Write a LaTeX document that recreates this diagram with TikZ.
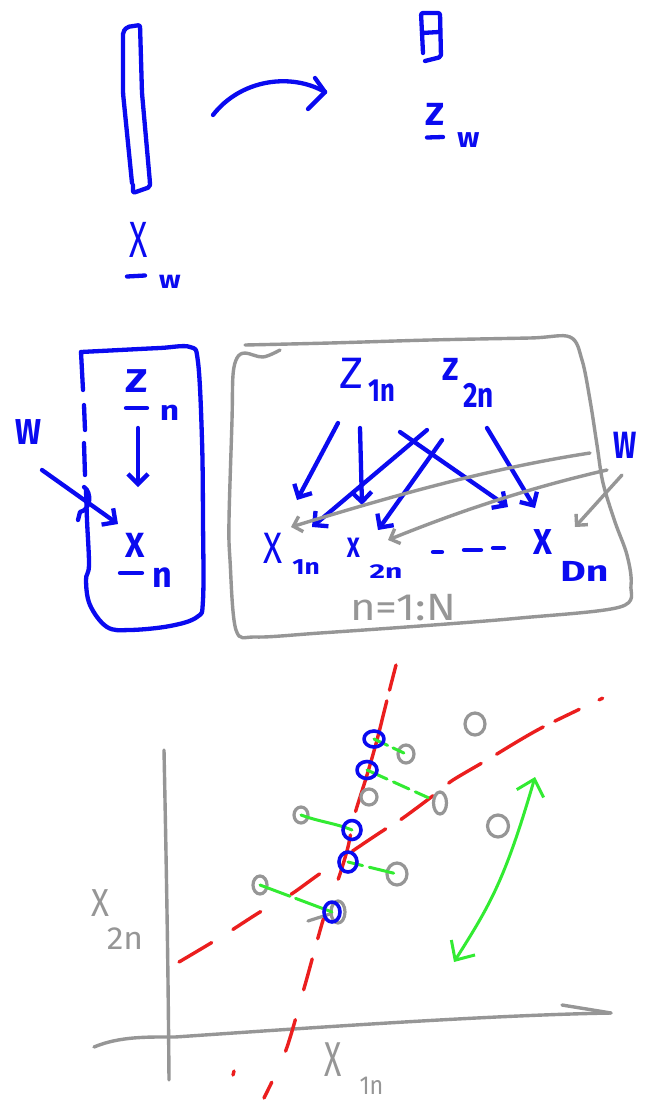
\documentclass[tikz,border=0pt]{standalone}
\usepackage{fontspec}
\setmainfont{Fira Sans}
\usepackage{graphicx}
\usetikzlibrary{arrows.meta,calc}
\definecolor{hblue}{RGB}{10,10,240}
\definecolor{hgray}{RGB}{150,150,150}
\definecolor{hred}{RGB}{235,30,30}
\definecolor{hgreen}{RGB}{50,235,50}
\newcommand{\HW}[3]{\fontsize{#1}{#1}\selectfont\bfseries\scalebox{#2}[1]{#3}}
\newcommand{\HWr}[3]{\fontsize{#1}{#1}\selectfont\scalebox{#2}[1]{#3}}
\begin{document}
\begin{tikzpicture}[x=1pt,y=-1pt,
  ink/.style={line cap=round,line join=round},
  bl/.style={ink,draw=hblue,line width=4.3pt},
  gr/.style={ink,draw=hgray,line width=3.4pt},
  rd/.style={ink,draw=hred,line width=3.4pt},
  gn/.style={ink,draw=hgreen,line width=3pt},
  btxt/.style={inner sep=0pt,outer sep=0pt,anchor=center,text=hblue},
  gtxt/.style={inner sep=0pt,outer sep=0pt,anchor=center,text=hgray},
  barb/.style={-{Straight Barb[length=10pt,width=20pt]}},
  sbarb/.style={-{Straight Barb[length=8pt,width=16pt]}},
  gbarb/.style={{Straight Barb[length=15pt,width=28pt]}-{Straight Barb[length=15pt,width=28pt]}},
  gdot/.style={gr,line width=3.2pt},
  bdot/.style={bl,line width=3.6pt}]
\useasboundingbox (0,0) rectangle (649,1101);
\fill[white] (0,0) rectangle (649,1101);

% ---------- top: x_w -> z_w ----------
\draw[bl,rounded corners=2pt] (132,183) -- (123,93) -- (123,32) -- (127,27) -- (140,25)
  -- (142,93) -- (150,183) -- (150,187) -- (133,193) -- (133,185);
\node[btxt] (xwX) at (139,240) {\HWr{51}{0.66}{X}};
\node[btxt] (xwW) at (170,281.5) {\HW{25}{1.15}{w}};
\draw[bl] (127,276.5) -- (145,275.5);

\coordinate (mapS) at (213,115);
\coordinate (mapE) at (325,92);
\draw[bl] (mapS) .. controls (240,80) and (290,72) .. (mapE);
\draw[bl] (mapE) -- ++(-10,-14);
\draw[bl] (mapE) -- ++(-17,17);

\draw[bl,rounded corners=2pt] (423,53) -- (421,13) -- (440,13) -- (441,57) -- (425,61);
\draw[bl] (422,33) -- (439,32);
\node[btxt] (zwZ) at (435,114) {\HW{32}{1.1}{Z}};
\node[btxt] (zwW) at (468.5,140.5) {\HW{28}{1.05}{w}};
\draw[bl] (427,137.5) -- (443,137);

% ---------- middle left: plate with z_n -> x_n ----------
\draw[bl] plot[smooth,tension=0.6] coordinates {(81,352) (120,350) (160,348) (190,347)
  (198,362) (202,440) (203,520) (203,600) (197,617) (170,626) (130,630) (107,627)
  (90,605) (86,580) (89,565) (87,520) (86,490)};
\draw[bl] (81,352) -- (83,390);
\draw[bl] (84,405) -- (85,430);
\draw[bl] (84,443) -- (85,475);
\draw[bl] (84,487) .. controls (92,492) and (91,510) .. (80,512) -- (78,520);

\node[btxt] (znZ) at (136.5,381.5) {\HW{33}{1.25}{Z}};
\node[btxt] (znN) at (169.5,412.5) {\HW{28}{1.2}{n}};
\draw[bl] (126,408) -- (147,408);
\node[btxt] (xnX) at (135,545) {\HW{35}{0.95}{X}};
\node[btxt] (xnN) at (162,577.5) {\HW{36}{0.95}{n}};
\draw[bl] (120,573) -- (142,573);
\node[btxt] (Wl) at (28.5,432.5) {\HW{36}{0.85}{W}};

\draw[bl,barb] ($(znZ)+(1.5,46.5)$) -- ($(xnX)+(3,-58)$);
\draw[bl,barb] ($(Wl)+(13.5,37.5)$) -- ($(xnX)+(-17,-21)$);

% ---------- middle right: gray plate ----------
\draw[gr] plot[smooth,tension=0.55] coordinates {(245,345) (330,343) (430,340) (530,338)
  (570,337) (582,360) (590,400) (597,445) (603,483) (615,522) (627,555) (631,585)
  (620,607) (520,618) (420,626) (320,633) (256,637) (236,630) (230,560) (229,520)
  (232,420) (233,375) (237,358) (245,353) (263,357) (280,350)};

\node[btxt] (z1Z) at (351.5,373) {\HWr{44}{1.05}{Z}};
\node[btxt] (z1S) at (382,391) {\HW{32}{0.8}{1n}};
\node[btxt] (z2Z) at (451,369) {\HW{32}{0.95}{Z}};
\node[btxt] (z2S) at (478.5,395) {\HW{35}{0.8}{2n}};
\node[btxt] (x1X) at (273,548) {\HWr{44}{0.8}{X}};
\node[btxt] (x1S) at (306,567.5) {\HW{22}{1.2}{1n}};
\node[btxt] (x2X) at (353.5,547.5) {\HW{28}{0.8}{X}};
\node[btxt] (x2S) at (386,572) {\HW{20}{1.5}{2n}};
\node[btxt] (xDX) at (542.5,542.5) {\HW{36}{0.9}{X}};
\node[btxt] (xDS) at (584.5,571) {\HW{29}{1.35}{Dn}};
\node[btxt] (Wr) at (625,445) {\HW{38}{0.72}{W}};
\node[gtxt] (plate) at (403,608) {\HWr{38}{1.15}{n=1:N}};

\draw[bl] (433,552) -- (442,552);
\draw[bl] (464,550) -- (481,550);
\draw[bl] (493,548) -- (504,548);

\draw[bl,barb] ($(z1Z)+(-13.5,50)$) -- ($(x1X)+(24,-48)$);
\draw[bl,barb] ($(z1Z)+(8.5,55)$) -- ($(x2X)+(8.5,-42.5)$);
\draw[bl,barb] ($(z1Z)+(48.5,59)$) -- ($(xDX)+(-34.5,-35.5)$);
\draw[bl,barb] ($(z2Z)+(-24,61)$) -- ($(x1X)+(39,-21)$);
\draw[bl,barb] ($(z2Z)+(-9,71)$) -- ($(x2X)+(24.5,-17.5)$);
\draw[bl,barb] ($(z2Z)+(36,59)$) -- ($(xDX)+(-7.5,-34.5)$);

\draw[gr,sbarb] ($(Wr)+(-35,8)$) .. controls (480,470) and (380,500) .. ($(x1X)+(18,-21)$);
\draw[gr,sbarb] ($(Wr)+(-18,25)$) .. controls (520,490) and (450,515) .. ($(x2X)+(34.5,-7.5)$);
\draw[gr,sbarb] ($(Wr)+(-3,30)$) -- ($(xDX)+(32.5,-15.5)$);

% ---------- bottom: scatter plot ----------
\draw[gr] (164,750) .. controls (166,850) and (168,950) .. (169,1080);
\coordinate (axS) at (94,1047);
\coordinate (axE) at (611,1013);
\draw[gr] (axS) .. controls (120,1036) and (150,1037) .. (175,1037)
  .. controls (350,1025) and (500,1015) .. (axE);
\draw[gr] (axE) -- ++(-49,-8);
\node[gtxt] (a2X) at (100,903.5) {\HWr{39}{0.85}{X}};
\node[gtxt] (a2S) at (125,938.5) {\HWr{32}{1.05}{2n}};
\node[gtxt] (a1X) at (333.5,1060) {\HWr{49}{0.65}{X}};
\node[gtxt] (a1S) at (371.5,1086) {\HWr{26}{0.9}{1n}};

% red principal directions
\draw[rd,dash pattern=on 26pt off 11pt on 115pt off 24pt on 46pt off 38pt on 25pt off 21pt on 32pt off 31pt on 33pt off 34pt on 19pt off 40pt]
  plot[smooth] coordinates {(396,665) (387,700) (377,740) (367,775) (354,817) (348,847)
  (338,880) (324,917) (305,985) (286,1050) (264,1098)};
\draw[rd] (234,1071) -- (233,1075);
\draw[rd,dash pattern=on 38pt off 25pt on 33pt off 35pt on 35pt off 40pt on 40pt off 18pt on 40pt off 20pt on 38pt off 18pt on 54pt off 13pt on 27pt off 22pt on 4pt off 40pt]
  plot[smooth] coordinates {(179,962) (211,943) (232,930) (260,912) (290,895) (318,875)
  (357,848) (387,828) (403,818) (438,792) (453,780) (487,760) (520,740) (547,725) (603,698)};

% data points (gray) and projections (blue)
\coordinate (p1) at (475,724);
\coordinate (p2) at (406,754);
\coordinate (p3) at (369,797);
\coordinate (p4) at (440,803);
\coordinate (p5) at (301,815);
\coordinate (p6) at (498,826);
\coordinate (p7) at (397,874);
\coordinate (p8) at (260,885);
\coordinate (p9) at (338,912);
\coordinate (b1) at (374,739);
\coordinate (b2) at (367,770);
\coordinate (b3) at (352,830);
\coordinate (b4) at (348,862);
\coordinate (b5) at (332,912);

\draw[gdot] (p1) ellipse [x radius=10pt,y radius=11pt];
\draw[gdot] (p2) ellipse [x radius=8pt,y radius=9pt];
\draw[gdot] (p3) ellipse [x radius=8pt,y radius=8pt];
\draw[gdot] (p4) ellipse [x radius=6.5pt,y radius=11pt];
\draw[gdot] (p5) ellipse [x radius=7pt,y radius=8pt];
\draw[gdot] (p6) ellipse [x radius=10.5pt,y radius=11pt];
\draw[gdot] (p7) ellipse [x radius=10pt,y radius=11pt];
\draw[gdot] (p8) ellipse [x radius=7pt,y radius=9pt];
\draw[gdot] (p9) ellipse [x radius=7pt,y radius=11pt];
\draw[gdot] ($(p9)+(-8,2)$) -- ($(p9)+(-30,9)$);

\draw[gn,dash pattern=on 15pt off 6pt on 12pt off 20pt] (b1) -- (p2);
\draw[gn,dash pattern=on 22pt off 7pt on 17pt off 7pt on 14pt off 20pt] (b2) -- (p4);
\draw[gn] (p5) .. controls (320,822) and (335,823) .. (b3);
\draw[gn,dash pattern=on 15pt off 7pt on 25pt off 20pt] (b4) -- (p7);
\draw[gn,dash pattern=on 32pt off 6pt on 40pt off 20pt] (p8) -- (b5);

\draw[bdot] (b1) ellipse [x radius=10pt,y radius=8pt];
\draw[bdot] (b2) ellipse [x radius=10pt,y radius=8.5pt];
\draw[bdot] (b3) ellipse [x radius=9pt,y radius=9.5pt];
\draw[bdot] (b4) ellipse [x radius=9pt,y radius=10pt];
\draw[bdot] (b5) ellipse [x radius=8pt,y radius=10pt];

% green spread arrow
\coordinate (ga) at (535,777);
\coordinate (gb) at (454,962);
\draw[gn,gbarb] (ga) .. controls (505,880) and (490,905) .. (gb);
\end{tikzpicture}
\end{document}
